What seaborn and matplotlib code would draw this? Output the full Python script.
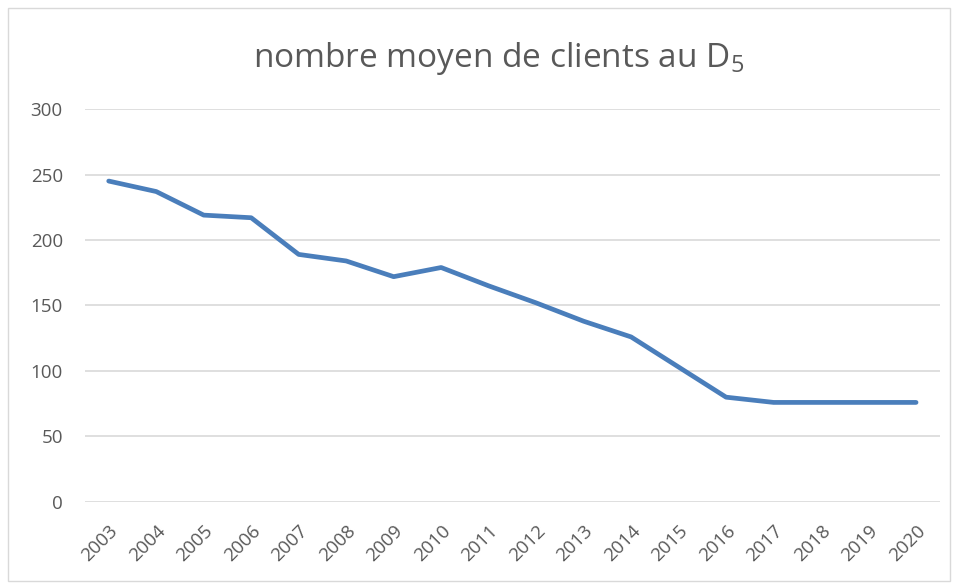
import pandas as pd
import matplotlib.pyplot as plt
import seaborn as sns
from matplotlib.patches import Rectangle

# données
annees = [str(a) for a in range(2003, 2021)]
clients = [245, 237, 219, 217, 189, 184, 172, 179, 165, 152, 138, 126, 103, 80, 76, 76, 76, 76]
y_ticks = [0, 50, 100, 150, 200, 250, 300]

df = pd.DataFrame({'annee': annees, 'clients': clients})

sns.set_theme(style='white')
plt.rcParams['font.family'] = ['Open Sans', 'DejaVu Sans']
plt.rcParams['mathtext.fontset'] = 'custom'
plt.rcParams['mathtext.rm'] = 'Open Sans'

gris = '#595959'
fig = plt.figure(figsize=(9.58, 5.83), dpi=100)
ax = fig.add_axes([0.0887, 0.139, 0.8923, 0.674])

sns.lineplot(data=df, x='annee', y='clients', ax=ax, color='#4A7EBB',
             linewidth=3.4, solid_capstyle='round', solid_joinstyle='round')

ax.set_xlim(-0.5, len(annees) - 0.5)
ax.set_ylim(0, 300)
ax.set_yticks(y_ticks)
ax.grid(axis='y', color='#D9D9D9', linewidth=1.2)
ax.set_axisbelow(True)
for s in ax.spines.values():
    s.set_visible(False)
ax.tick_params(axis='both', length=0, colors=gris, labelsize=13.5)
ax.tick_params(axis='y', pad=16)
ax.tick_params(axis='x', pad=14)
plt.setp(ax.get_xticklabels(), rotation=45, ha='right', rotation_mode='anchor')
ax.set_xlabel('')
ax.set_ylabel('')

fig.text(0.52, 0.9, r'nombre moyen de clients au D$_\mathregular{5}$',
         ha='center', va='center', fontsize=24, color=gris)

# bordure de la zone du graphique
fig.patches.append(Rectangle((0.008, 0.004), 0.984, 0.982, transform=fig.transFigure,
                             fill=False, edgecolor='#D9D9D9', linewidth=1))

fig.savefig('out.png', dpi=100)
